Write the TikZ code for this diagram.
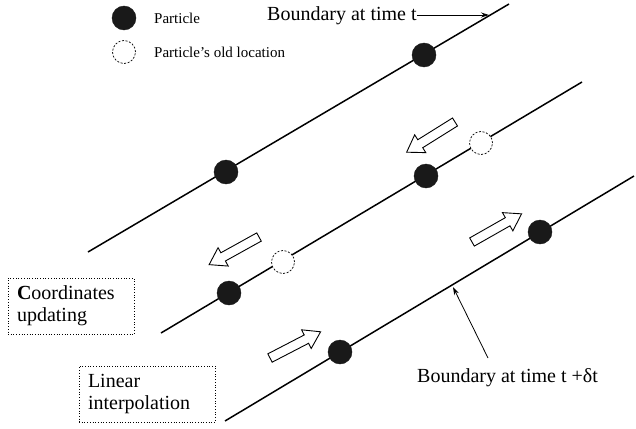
\documentclass[tikz,border=0pt]{standalone}
\usepackage{fontspec}
\setmainfont{Liberation Serif}
\usetikzlibrary{arrows.meta}
\begin{document}
\begin{tikzpicture}[x=1pt,y=-1pt,
  bline/.style={line width=1.5pt},
  particle/.style={circle,fill=black!90,draw=black!90,minimum size=24pt,inner sep=0pt},
  oldpos/.style={circle,fill=white,draw=black,dashed,dash pattern=on 2pt off 1.6pt,line width=0.7pt,minimum size=23pt,inner sep=0pt},
  legtext/.style={font=\fontsize{15}{17}\selectfont,inner sep=0pt,anchor=west},
  bigtext/.style={font=\fontsize{20}{22}\selectfont,inner sep=0pt},
  stepbox/.style={draw,dotted,line width=0.7pt,align=left,font=\fontsize{20}{22}\selectfont,inner xsep=9pt,inner ysep=8pt,minimum height=56pt},
  thinarrow/.style={line width=0.8pt,-{Stealth[length=8pt,width=5pt]}},
  blockarrow/.pic={\draw[line width=0.9pt,fill=white] (0,-4.7) -- (41,-4.7) -- (41,-10.5) -- (57,0) -- (41,10.5) -- (41,4.7) -- (0,4.7) -- cycle;}
]
\useasboundingbox (0,0) rectangle (636,428);
% boundary lines
\coordinate (l1a) at (88,252); \coordinate (l1b) at (509,4);
\coordinate (l2a) at (161,333); \coordinate (l2b) at (582,82);
\coordinate (l3a) at (225,421); \coordinate (l3b) at (634,176);
\draw[bline] (l1a) -- (l1b);
\draw[bline] (l2a) -- (l2b);
\draw[bline] (l3a) -- (l3b);
% legend
\node[particle] (legp) at (124,18) {};
\node[oldpos] (lego) at (124,52) {};
\node[legtext] (legpt) at (154,18) {Particle};
\node[legtext] (legot) at (154,52) {Particle’s old location};
% particles
\node[particle] (p1) at (424,55) {};
\node[particle] (p2) at (226,172) {};
\node[particle] (p3) at (426,176) {};
\node[oldpos] (o3) at (481,143) {};
\node[particle] (p4) at (229,293) {};
\node[oldpos] (o4) at (283,262) {};
\node[particle] (p5) at (540,232) {};
\node[particle] (p6) at (340,352) {};
% block arrows
\pic[rotate=212] at (455,122) {blockarrow};
\pic[rotate=209] at (259,237) {blockarrow};
\pic[rotate=29.6] at (472,242) {blockarrow};
\pic[rotate=27.4] at (270,358) {blockarrow};
% labels
\node[bigtext,anchor=base west] (bt1) at (267,21) {Boundary at time t};
\coordinate (tip1) at (489,15);
\draw[thinarrow] (bt1.east |- tip1) -- (tip1);
\node[bigtext,anchor=base west] (bt2) at (417,382) {Boundary at time t +δt};
\coordinate (a2s) at (488,358);
\coordinate (tip2) at (453,287);
\draw[thinarrow] (a2s) -- (tip2);
% boxes
\node[stepbox,text width=108pt] (box1) at (71,306) {\textbf{C}oordinates\\updating};
\node[stepbox,text width=118pt] (box2) at (147,394) {Linear\\interpolation};
\end{tikzpicture}
\end{document}
